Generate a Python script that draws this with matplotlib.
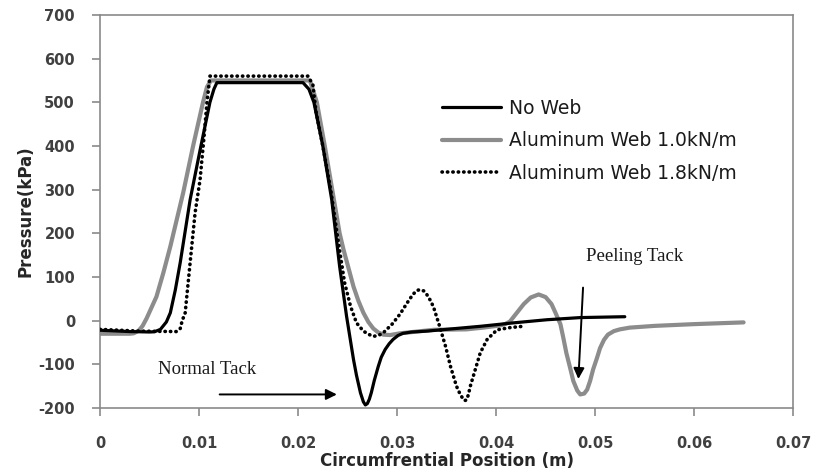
import numpy as np
import matplotlib
matplotlib.use("Agg")
from matplotlib import pyplot as plt

plt.rcParams["axes.unicode_minus"] = False

# circumferential position (m) and pressure (kPa) for each case
x_noweb = [0.0, 0.003, 0.005, 0.0055, 0.0061, 0.0067, 0.0071, 0.0076, 0.0081, 0.0091, 0.0101,
           0.0111, 0.0115, 0.0118, 0.0205, 0.0211, 0.0216, 0.0225, 0.0234, 0.0242, 0.0249,
           0.0256, 0.0259, 0.0263, 0.0266, 0.0268, 0.027, 0.0272, 0.0274, 0.0277, 0.0281,
           0.0284, 0.0288, 0.0292, 0.0296, 0.0301, 0.0306, 0.0315, 0.033, 0.0384, 0.0418,
           0.0451, 0.0485, 0.053]
p_noweb = [-22, -25, -26, -25.5, -20, -3, 18, 70, 133, 277, 390,
           500, 530, 545, 545, 530, 500, 400, 277, 124, 10,
           -89, -125, -165, -186, -193, -190, -180, -165, -137, -105,
           -84, -66, -53, -43, -34, -29, -26, -24, -13, -5,
           2, 7, 9]

x_al10 = [0.0, 0.003, 0.0034, 0.0039, 0.0043, 0.0047, 0.005, 0.0057, 0.0064, 0.0071, 0.0084,
          0.0094, 0.0104, 0.0108, 0.0112, 0.0212, 0.0219, 0.0227, 0.0242, 0.0246, 0.0256,
          0.0261, 0.0266, 0.0271, 0.0276, 0.0281, 0.0286, 0.0293, 0.0303, 0.0337, 0.037,
          0.0387, 0.0404, 0.0409, 0.0414, 0.0421, 0.0428, 0.0435, 0.0443, 0.045, 0.0456,
          0.046, 0.0465, 0.0468, 0.0471, 0.0475, 0.0478, 0.0482, 0.0485, 0.0489, 0.0492,
          0.0495, 0.0498, 0.0502, 0.0505, 0.0509, 0.0513, 0.0519, 0.0525, 0.0535, 0.056,
          0.06, 0.065]
p_al10 = [-30, -30, -29, -23, -12, 5, 20, 55, 110, 170, 293,
          400, 500, 535, 550, 550, 500, 400, 200, 162, 78,
          45, 18, -3, -18, -27, -32, -33, -29, -21, -20,
          -16, -11, -8, -2, 18, 38, 53, 60, 54, 38,
          18, -8, -40, -74, -110, -138, -160, -169, -167, -158,
          -138, -112, -85, -63, -44, -32, -24, -20, -16, -12,
          -8, -4]

x_al18 = [0.0, 0.002, 0.004, 0.0077, 0.0081, 0.0083, 0.0086, 0.0091, 0.0096, 0.0101, 0.0105,
          0.0108, 0.0111, 0.021, 0.0215, 0.0218, 0.0225, 0.0233, 0.024, 0.0247, 0.0253,
          0.0259, 0.0266, 0.0271, 0.0276, 0.0281, 0.0286, 0.0295, 0.0303, 0.031, 0.0316,
          0.032, 0.0323, 0.0327, 0.033, 0.0334, 0.0337, 0.0343, 0.0349, 0.0354, 0.036,
          0.0363, 0.0366, 0.0368, 0.037, 0.0372, 0.0374, 0.0379, 0.0384, 0.0391, 0.0401,
          0.0414, 0.0427]
p_al18 = [-20, -22, -24, -25, -18, 0, 18, 133, 247, 322, 420,
          500, 560, 560, 540, 480, 400, 300, 190, 87, 33,
          -5, -24, -31, -36, -34, -28, -8, 15, 40, 60,
          69, 71, 68, 60, 45, 30, -13, -59, -105, -150,
          -165, -177, -183, -182, -170, -150, -112, -74, -43, -21,
          -16, -13]

legend_labels = ["No Web", "Aluminum Web 1.0kN/m", "Aluminum Web 1.8kN/m"]

fig = plt.figure(figsize=(8.14, 4.75), dpi=100)
ax = fig.add_axes([0.1229, 0.1411, 0.8514, 0.8274])

l_al10, = ax.plot(x_al10, p_al10, color="#8c8c8c", lw=3.0, solid_capstyle="round",
                  solid_joinstyle="round", zorder=2)
l_noweb, = ax.plot(x_noweb, p_noweb, color="black", lw=2.3, solid_capstyle="round",
                   solid_joinstyle="round", zorder=3)
l_al18, = ax.plot(x_al18, p_al18, color="black", lw=2.6, linestyle=(0, (0.1, 1.4)),
                  dash_capstyle="round", zorder=4)

ax.set_xlim(0, 0.07)
ax.set_ylim(-200, 700)
ax.set_xticks(np.arange(0, 0.0701, 0.01))
ax.set_xticklabels(["0", "0.01", "0.02", "0.03", "0.04", "0.05", "0.06", "0.07"])
ax.set_yticks(np.arange(-200, 701, 100))

for s in ax.spines.values():
    s.set_color("#8a8a8a")
    s.set_linewidth(1.2)
ax.tick_params(axis="both", direction="out", length=6, width=1.2, color="#8a8a8a",
               labelsize=10.5, labelcolor="#404040")
ax.tick_params(axis="y", pad=12)
ax.tick_params(axis="x", pad=14)
for lab in ax.get_xticklabels() + ax.get_yticklabels():
    lab.set_fontweight("bold")

ax.set_xlabel("Circumfrential Position (m)", fontsize=12, fontweight="bold", color="#262626", labelpad=1)
ax.set_ylabel("Pressure(kPa)", fontsize=12, fontweight="bold", color="#262626", labelpad=3)

# labels for the two tack regions
ax.annotate("", xy=(0.0242, -169), xytext=(0.0118, -169),
            arrowprops=dict(arrowstyle="-|>", color="black", lw=1.4, mutation_scale=16))
ax.text(0.01086, -112, "Normal Tack", family="Liberation Serif", fontsize=13.5,
        ha="center", va="center", color="#1a1a1a")
ax.annotate("", xy=(0.0483, -140), xytext=(0.0488, 82),
            arrowprops=dict(arrowstyle="-|>", color="black", lw=1.4, mutation_scale=16))
ax.text(0.05404, 146, "Peeling Tack", family="Liberation Serif", fontsize=13.5,
        ha="center", va="center", color="#1a1a1a")

leg = ax.legend([l_noweb, l_al10, l_al18], legend_labels, loc="upper left",
                bbox_to_anchor=(0.494, 0.787), frameon=False,
                borderaxespad=0, borderpad=0, fontsize=13.5, handlelength=3.1,
                handletextpad=0.45, labelspacing=0.72)
for t in leg.get_texts():
    t.set_color("#1a1a1a")

plt.savefig("out.png", dpi=100)
